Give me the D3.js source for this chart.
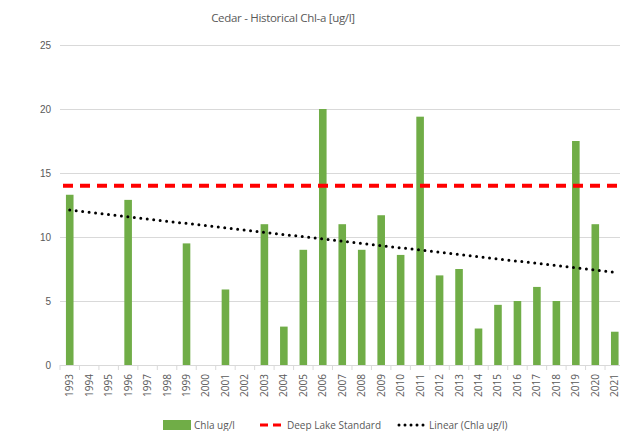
<!DOCTYPE html>
<html>
<head>
<meta charset="utf-8">
<script src="https://cdn.jsdelivr.net/npm/d3@7"></script>
<style>
    body { margin: 0; background: #fff; }
    svg { font-family: "Open Sans", "Noto Sans", sans-serif; }
</style>
</head>
<body>
<div id="chart"></div>
<script>
// ! DATA ! //
const years = ["1993", "1994", "1995", "1996", "1997", "1998", "1999", "2000", "2001", "2002", "2003", "2004", "2005", "2006", "2007", "2008", "2009", "2010", "2011", "2012", "2013", "2014", "2015", "2016", "2017", "2018", "2019", "2020", "2021"];
const chla = [13.3, null, null, 12.9, null, null, 9.5, null, 5.9, null, 11.0, 3.0, 9.0, 20.0, 11.0, 9.0, 11.7, 8.6, 19.4, 7.0, 7.5, 2.85, 4.7, 5.0, 6.1, 5.0, 17.5, 11.0, 2.6];
const deepLakeStandard = 14;
const trendYears = ["1993", "2021"];
const trendValues = [12.1, 7.25];
const yTicks = [0, 5, 10, 15, 20, 25];

const width = 620;
const height = 431;
const margin = { left: 60, right: -4.5, top: 45, bottom: 66 };

const svg = d3.select("#chart").append("svg").attr("width", width).attr("height", height);

// ^ TITLE ^ //
svg.append("text")
    .attr("x", 283)
    .attr("y", 22)
    .attr("text-anchor", "middle")
    .attr("fill", "#595959")
    .style("font-size", "11.5px")
    .style("letter-spacing", "-0.3px")
    .text("Cedar - Historical Chl-a [ug/l]");

// ! SCALES ! //
const xScale = d3.scaleBand().domain(years).range([margin.left, width - margin.right]).paddingInner(0.61).paddingOuter(0.305);
const xBand = d3.scaleBand().domain(years).range([margin.left, width - margin.right]);
const yScale = d3.scaleLinear().domain([0, 25]).range([height - margin.bottom, margin.top]);

// ^ GRID + Y AXIS ^ //
const yAxis = d3.axisLeft(yScale).tickValues(yTicks).tickSize(-(width - margin.left)).tickPadding(9);
const gy = svg.append("g").attr("transform", `translate(${margin.left},0)`).call(yAxis);
gy.select(".domain").remove();
gy.selectAll(".tick line").attr("stroke", "#d9d9d9").attr("stroke-width", 1).filter((d) => d === 0).remove();
gy.selectAll(".tick text").attr("fill", "#595959").style("font-size", "10px");

// ^ X AXIS ^ //
const gx = svg.append("g").attr("transform", `translate(0,${yScale(0)})`);
gx.append("line").attr("x1", margin.left).attr("x2", width).attr("y1", 0.5).attr("y2", 0.5).attr("stroke", "#d9d9d9");
gx.selectAll(".xtick")
    .data(years)
    .enter()
    .append("line")
    .attr("x1", (d) => xBand(d))
    .attr("x2", (d) => xBand(d))
    .attr("y1", 0)
    .attr("y2", 5)
    .attr("stroke", "#d9d9d9");
gx.selectAll(".xlabel")
    .data(years)
    .enter()
    .append("text")
    .attr("transform", (d) => `translate(${xBand(d) + xBand.bandwidth() / 2 + 3.5},9) rotate(-90)`)
    .attr("text-anchor", "end")
    .attr("fill", "#595959")
    .style("font-size", "10px")
    .text((d) => d);

// ! BARS ! //
svg.append("g")
    .selectAll("rect")
    .data(years.map((y, i) => ({ year: y, value: chla[i] })).filter((d) => d.value !== null))
    .enter()
    .append("rect")
    .attr("x", (d) => xScale(d.year))
    .attr("y", (d) => yScale(d.value))
    .attr("width", xScale.bandwidth())
    .attr("height", (d) => yScale(0) - yScale(d.value))
    .attr("fill", "#70ad47");

// ! DEEP LAKE STANDARD ! //
svg.append("line")
    .attr("x1", margin.left)
    .attr("x2", width)
    .attr("y1", yScale(deepLakeStandard))
    .attr("y2", yScale(deepLakeStandard))
    .attr("stroke", "#ff0000")
    .attr("stroke-width", 4)
    .attr("stroke-dasharray", "10,7")
    .attr("stroke-dashoffset", -3);

// ! TREND LINE ! //
const line = d3.line().x((d) => xBand(d[0]) + xBand.bandwidth() / 2).y((d) => yScale(d[1]));
svg.append("path")
    .datum(trendYears.map((y, i) => [y, trendValues[i]]))
    .attr("d", line)
    .attr("fill", "none")
    .attr("stroke", "#000")
    .attr("stroke-width", 3)
    .attr("stroke-linecap", "round")
    .attr("stroke-dasharray", "0,6.5");

// ! LEGEND ! //
const legend = svg.append("g").attr("transform", "translate(0,425)");
legend.append("rect").attr("x", 163).attr("y", -5).attr("width", 28).attr("height", 10).attr("fill", "#70ad47");
legend.append("text").attr("x", 194).attr("y", 4).attr("fill", "#595959").style("font-size", "10px").text("Chla ug/l");
legend.append("line").attr("x1", 260).attr("x2", 284).attr("y1", 0).attr("y2", 0)
    .attr("stroke", "#ff0000").attr("stroke-width", 3).attr("stroke-dasharray", "8,5");
legend.append("text").attr("x", 287).attr("y", 4).attr("fill", "#595959").style("font-size", "10px").text("Deep Lake Standard");
legend.append("line").attr("x1", 399).attr("x2", 427).attr("y1", 0).attr("y2", 0)
    .attr("stroke", "#000").attr("stroke-width", 3).attr("stroke-linecap", "round").attr("stroke-dasharray", "0,6");
legend.append("text").attr("x", 429).attr("y", 4).attr("fill", "#595959").style("font-size", "10px").text("Linear (Chla ug/l)");
</script>
</body>
</html>
